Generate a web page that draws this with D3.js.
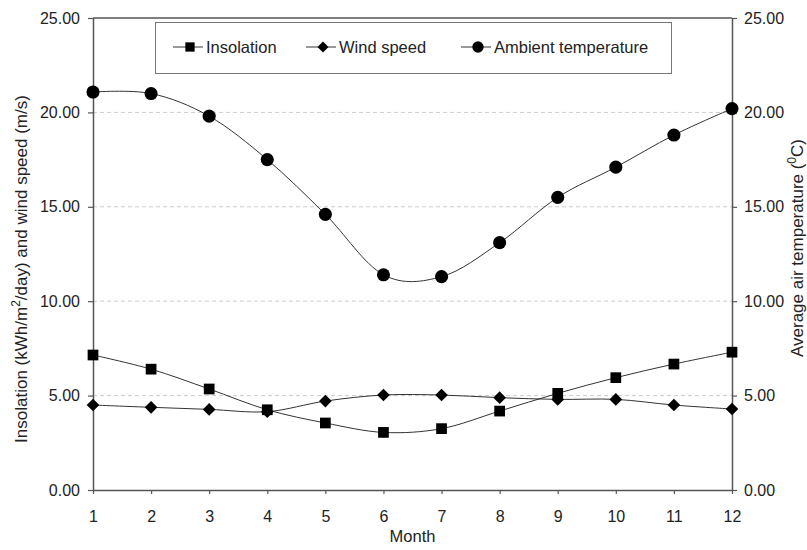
<!DOCTYPE html>
<html>
<head>
<meta charset="utf-8">
<style>
    body { margin: 0; background: #fff; }
    svg { font-family: 'Liberation Sans', Arial, sans-serif; }
</style>
</head>
<body>
<svg width="807" height="550"></svg>
<script src="https://d3js.org/d3.v7.min.js"></script>
<script>
    // monthly values
    let months = [1, 2, 3, 4, 5, 6, 7, 8, 9, 10, 11, 12]
    let insolation = [7.15, 6.4, 5.35, 4.25, 3.55, 3.05, 3.25, 4.18, 5.12, 5.95, 6.67, 7.3]
    let windSpeed = [4.5, 4.38, 4.27, 4.15, 4.71, 5.03, 5.03, 4.89, 4.8, 4.8, 4.5, 4.29]
    let temperature = [21.08, 21.0, 19.8, 17.5, 14.6, 11.4, 11.3, 13.1, 15.5, 17.1, 18.8, 20.2]
    let yTicks = [0, 5, 10, 15, 20, 25]
    let seriesNames = ["Insolation", "Wind speed", "Ambient temperature"]

    let svg = d3.select("svg")
    let plotLeft = 93, plotRight = 732, plotTop = 18, plotBottom = 490

    let x = d3.scaleLinear().domain([1, 12]).range([plotLeft, plotRight])
    let yL = d3.scaleLinear().domain([0, 25]).range([plotBottom, plotTop])
    let yR = d3.scaleLinear().domain([0, 25]).range([plotBottom, plotTop])

    // gridlines
    svg.selectAll(".grid")
        .data(yTicks.filter(d => d > 0 && d < 25))
        .join("line")
        .attr("x1", plotLeft).attr("x2", plotRight)
        .attr("y1", d => yL(d)).attr("y2", d => yL(d))
        .style("stroke", "#ccc")
        .style("stroke-dasharray", "4,3")
        .style("stroke-width", 1)

    // axes
    let fmt = d3.format(".2f")
    let axisStyle = g => {
        g.select(".domain").style("stroke", "#555").style("stroke-width", 1.5)
        g.selectAll(".tick line").style("stroke", "#555").style("stroke-width", 1.2)
        g.selectAll("text").style("font-size", "16px").style("fill", "#222")
            .style("font-family", "'Liberation Sans', Arial, sans-serif")
    }

    svg.append("g")
        .attr("transform", `translate(${plotLeft},0)`)
        .call(d3.axisLeft(yL).tickValues(yTicks).tickFormat(fmt).tickSize(5).tickSizeOuter(0).tickPadding(8))
        .call(axisStyle)

    svg.append("g")
        .attr("transform", `translate(${plotRight},0)`)
        .call(d3.axisRight(yR).tickValues(yTicks).tickFormat(fmt).tickSize(5).tickSizeOuter(0).tickPadding(7))
        .call(axisStyle)

    svg.append("g")
        .attr("transform", `translate(0,${plotBottom})`)
        .call(d3.axisBottom(x).tickValues(months).tickFormat(d3.format("d")).tickSize(4).tickSizeOuter(0).tickPadding(17))
        .call(axisStyle)

    // top border
    svg.append("line")
        .attr("x1", plotLeft).attr("x2", plotRight)
        .attr("y1", plotTop).attr("y2", plotTop)
        .style("stroke", "#555").style("stroke-width", 1.5)

    // axis titles
    svg.append("text")
        .attr("x", x(6.5)).attr("y", 542)
        .attr("text-anchor", "middle")
        .style("font-size", "16.5px").style("fill", "#222")
        .text("Month")

    let lt = svg.append("text")
        .attr("transform", "translate(27,269) rotate(-90)")
        .attr("text-anchor", "middle")
        .style("font-size", "17px").style("fill", "#222")
    lt.append("tspan").text("Insolation (kWh/m")
    lt.append("tspan").attr("dy", -7).style("font-size", "12px").text("2")
    lt.append("tspan").attr("dy", 7).text("/day) and wind speed (m/s)")

    let rt = svg.append("text")
        .attr("transform", "translate(803,248) rotate(-90)")
        .attr("text-anchor", "middle")
        .style("font-size", "17px").style("fill", "#222")
    rt.append("tspan").text("Average air temperature (")
    rt.append("tspan").attr("dy", -7).style("font-size", "12px").text("0")
    rt.append("tspan").attr("dy", 7).text("C)")

    // square rotated by 45 degrees, as in the original markers
    let diamond = {
        draw(context, size) {
            let r = Math.sqrt(size / 2)
            context.moveTo(0, -r)
            context.lineTo(r, 0)
            context.lineTo(0, r)
            context.lineTo(-r, 0)
            context.closePath()
        }
    }

    // series
    let curve = d3.curveCatmullRom.alpha(0)
    let series = [
        { name: seriesNames[0], values: insolation, y: yL, shape: d3.symbolSquare, size: 115 },
        { name: seriesNames[1], values: windSpeed, y: yL, shape: diamond, size: 80 },
        { name: seriesNames[2], values: temperature, y: yR, shape: d3.symbolCircle, size: 135 }
    ]

    series.forEach(s => {
        let line = d3.line()
            .x((d, i) => x(months[i]))
            .y(d => s.y(d))
            .curve(curve)

        svg.append("path")
            .attr("d", line(s.values))
            .style("fill", "none")
            .style("stroke", "#333")
            .style("stroke-width", 1)

        svg.selectAll(null)
            .data(s.values)
            .join("path")
            .attr("d", d3.symbol().type(s.shape).size(s.size))
            .attr("transform", (d, i) => `translate(${x(months[i])},${s.y(d)})`)
            .style("fill", "#000")
    })

    // legend
    let legend = svg.append("g")
    legend.append("rect")
        .attr("x", 155.5).attr("y", 22.5)
        .attr("width", 516).attr("height", 51)
        .style("fill", "#fff")
        .style("stroke", "#777")
        .style("stroke-width", 1)

    let legendX = [190, 323, 478]
    series.forEach((s, i) => {
        let g = legend.append("g").attr("transform", `translate(${legendX[i]},47)`)
        g.append("line")
            .attr("x1", -17).attr("x2", 13)
            .style("stroke", "#333").style("stroke-width", 1)
        g.append("path")
            .attr("d", d3.symbol().type(s.shape).size(s.size * 0.75))
            .style("fill", "#000")
        g.append("text")
            .attr("x", 16).attr("y", 6)
            .style("font-size", "16.5px").style("fill", "#222")
            .text(s.name)
    })
</script>
</body>
</html>
